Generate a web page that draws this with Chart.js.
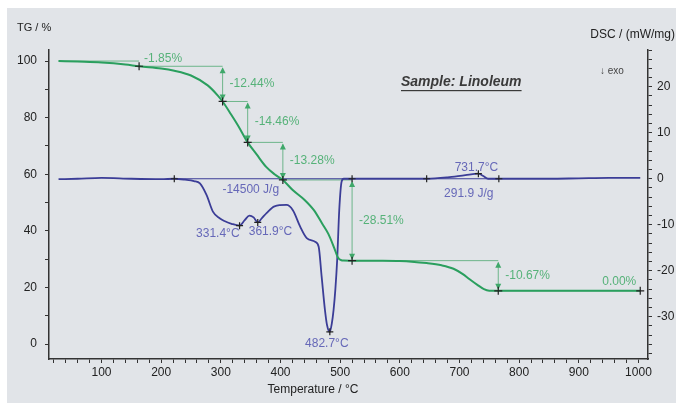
<!DOCTYPE html>
<html>
<head>
<meta charset="utf-8">
<script src="https://cdn.jsdelivr.net/npm/chart.js@4"></script>
<style>
  html, body { margin: 0; padding: 0; background: #fff; }
  canvas { display: block; }
</style>
</head>
<body>
<canvas id="dataChart" width="676" height="403"></canvas>
<script>
// TG curve (mass %, left axis)
const tgTemp = [28, 60, 100, 140, 163, 200, 222, 250, 278, 295, 303, 317, 330, 345, 360, 376, 390, 404, 420, 440, 456, 470, 480, 490, 496, 502, 506, 520, 560, 600, 620, 645, 670, 690, 705, 717, 730, 741, 750, 765, 850, 950, 1003]
const tgVal = [100, 99.8, 99.5, 98.8, 98.15, 97.4, 96.6, 94.9, 91.4, 87.8, 85.71, 81.2, 76.8, 71.25, 67.0, 62.6, 60.0, 57.97, 54.5, 51.0, 47.3, 42.5, 39.0, 34.0, 30.7, 29.6, 29.5, 29.46, 29.4, 29.3, 29.1, 28.6, 27.8, 26.6, 24.8, 22.9, 20.9, 19.4, 18.85, 18.79, 18.79, 18.79, 18.79]

// DSC curve (mW/mg, right axis)
const dscTemp = [28, 60, 100, 150, 200, 222, 240, 255, 265, 276, 287, 298, 306, 318, 331.4, 340, 348, 355, 361.9, 368, 377, 390, 410, 421, 433, 444, 458, 464, 469, 474.5, 478, 482.7, 486, 489, 492, 495, 498.5, 502.5, 506, 520, 600, 645, 680, 710, 731.7, 740, 748, 766, 850, 900, 950, 1003]
const dscVal = [-0.1, 0, 0.2, 0, -0.1, 0, -0.2, -0.5, -1.0, -3.5, -7.2, -8.6, -9.2, -9.8, -10.2, -9.0, -8.0, -8.4, -9.5, -8.7, -7.4, -6.0, -5.7, -6.9, -10.4, -12.9, -13.7, -14.8, -21.3, -28.5, -31.8, -33.3, -31.5, -28.5, -24, -17.7, -6.8, -0.6, 0, 0, 0, 0, 0.3, 0.8, 1.1, 0.6, 0, 0, 0, 0.1, 0.2, 0.2]

// TG evaluation steps
const stepTemp = [163, 303, 345, 404, 520, 765, 1003]
const stepVal = [98.15, 85.71, 71.25, 57.97, 29.46, 18.79, 18.79]
const stepLabels = ['-1.85%', '-12.44%', '-14.46%', '-13.28%', '-28.51%', '-10.67%', '0.00%']

// DSC evaluation
const peakTemp = [331.4, 361.9, 482.7, 731.7]
const peakLabels = ['331.4°C', '361.9°C', '482.7°C', '731.7°C']
const areaStart = [222, 645]
const areaEnd = [520, 766]
const areaLabels = ['-14500 J/g', '291.9 J/g']

const FONT = '"Liberation Sans", Arial, sans-serif';
const GREEN = '#2a9f5e';
const GREEN_TXT = '#56b279';
const BLUE = '#3b3d97';
const BLUE_TXT = '#6668b8';

function peakValue(t) {
    return dscVal[dscTemp.indexOf(t)];
}

const panelBg = {
    id: 'panelBg',
    beforeDraw(chart) {
        const c = chart.ctx;
        c.save();
        c.fillStyle = '#ffffff';
        c.fillRect(0, 0, chart.width, chart.height);
        c.fillStyle = '#e1e4e8';
        c.fillRect(7, 8, chart.width - 7, chart.height - 8);
        c.restore();
    }
};

function arrowHead(c, x, y, dir) {
    c.beginPath();
    c.moveTo(x, y);
    c.lineTo(x - 3, y - 6 * dir);
    c.lineTo(x + 3, y - 6 * dir);
    c.closePath();
    c.fill();
}

const evaluation = {
    id: 'evaluation',
    beforeDatasetsDraw(chart) {
        const c = chart.ctx;
        const sx = chart.scales.x, st = chart.scales.yTG, sd = chart.scales.yDSC;
        c.save();
        // TG reference levels and step arrows
        c.strokeStyle = '#6db58a';
        c.fillStyle = '#3fa86a';
        c.lineWidth = 1;
        let prevT = tgTemp[0], prevV = tgVal[0];
        for (let i = 0; i < stepTemp.length; i++) {
            const x0 = sx.getPixelForValue(prevT), x1 = sx.getPixelForValue(stepTemp[i]);
            const y0 = st.getPixelForValue(prevV), y1 = st.getPixelForValue(stepVal[i]);
            c.beginPath();
            c.moveTo(x0, y0);
            c.lineTo(x1, y0);
            c.stroke();
            if (y1 - y0 > 12) {
                c.beginPath();
                c.moveTo(x1, y0 + 2);
                c.lineTo(x1, y1 - 2);
                c.stroke();
                arrowHead(c, x1, y0 + 1, -1);
                arrowHead(c, x1, y1 - 1, 1);
            }
            prevT = stepTemp[i];
            prevV = stepVal[i];
        }
        // DSC integration baselines
        c.strokeStyle = BLUE;
        c.lineWidth = 1.2;
        for (let i = 0; i < areaStart.length; i++) {
            const y = sd.getPixelForValue(0);
            c.beginPath();
            c.moveTo(sx.getPixelForValue(areaStart[i]), y);
            c.lineTo(sx.getPixelForValue(areaEnd[i]), y);
            c.stroke();
        }
        c.restore();
    },
    afterDatasetsDraw(chart) {
        const c = chart.ctx;
        const sx = chart.scales.x, st = chart.scales.yTG, sd = chart.scales.yDSC;
        c.save();
        c.font = '12px ' + FONT;
        c.textBaseline = 'middle';
        // step labels
        c.fillStyle = GREEN_TXT;
        let prevV = tgVal[0];
        for (let i = 0; i < stepTemp.length; i++) {
            const x = sx.getPixelForValue(stepTemp[i]);
            const y0 = st.getPixelForValue(prevV), y1 = st.getPixelForValue(stepVal[i]);
            if (i === 0) {
                c.textAlign = 'left';
                c.fillText(stepLabels[i], x + 5, y1 - 8);
            } else if (i === stepTemp.length - 1) {
                c.textAlign = 'right';
                c.fillText(stepLabels[i], x - 4, y1 - 9);
            } else {
                c.textAlign = 'left';
                c.fillText(stepLabels[i], x + 7, (y0 + y1) / 2);
            }
            prevV = stepVal[i];
        }
        // peak labels
        c.fillStyle = BLUE_TXT;
        peakTemp.forEach(function(t, i) {
            const x = sx.getPixelForValue(t), y = sd.getPixelForValue(peakValue(t));
            if (i === 0) {
                c.textAlign = 'right';
                c.fillText(peakLabels[i], x, y + 8);
            } else if (i === 1) {
                c.textAlign = 'left';
                c.fillText(peakLabels[i], x - 9, y + 9);
            } else if (i === 2) {
                c.textAlign = 'center';
                c.fillText(peakLabels[i], x - 3, y + 12);
            } else {
                c.textAlign = 'center';
                c.fillText(peakLabels[i], x - 2, y - 6);
            }
        });
        // enthalpy labels
        areaLabels.forEach(function(txt, i) {
            const x0 = sx.getPixelForValue(areaStart[i]), x1 = sx.getPixelForValue(areaEnd[i]);
            const y = sd.getPixelForValue(0);
            c.textAlign = 'center';
            const xc = i === 0 ? x0 + (x1 - x0) * 0.43 : (x0 + x1) / 2 + 6;
            c.fillText(txt, xc, y + (i === 0 ? 11 : 15));
        });

        // titles
        c.fillStyle = '#222';
        c.font = '11px ' + FONT;
        c.textAlign = 'left';
        c.fillText('TG / %', 17, 28);
        c.textAlign = 'right';
        c.font = '12px ' + FONT;
        c.fillText('DSC / (mW/mg)', 675, 35);
        c.textAlign = 'center';
        c.fillText('Temperature / °C', 313, 390);
        c.font = '10px ' + FONT;
        c.fillStyle = '#444';
        c.textAlign = 'left';
        c.fillText('↓ exo', 600, 71);
        c.font = 'italic bold 14px ' + FONT;
        c.fillStyle = '#3a3a3a';
        c.fillText('Sample: Linoleum', 401, 82);
        const w = c.measureText('Sample: Linoleum').width;
        c.fillRect(401, 90, w, 1.2);
        c.restore();
    }
};

const axisGrid = { drawOnChartArea: false, tickLength: 4, tickColor: '#333', tickWidth: 1 };
const axisBorder = { color: '#333', width: 1.5 };
const tickFont = { family: FONT, size: 12 };

var chartData = {
    datasets: [{
        label: 'TG',
        data: tgTemp.map((t, i) => ({ x: t, y: tgVal[i] })),
        yAxisID: 'yTG',
        borderColor: GREEN,
        borderWidth: 2,
        pointRadius: 0,
        cubicInterpolationMode: 'monotone',
        order: 2
    }, {
        label: 'DSC',
        data: dscTemp.map((t, i) => ({ x: t, y: dscVal[i] })),
        yAxisID: 'yDSC',
        borderColor: BLUE,
        borderWidth: 1.8,
        pointRadius: 0,
        cubicInterpolationMode: 'monotone',
        order: 3
    }, {
        label: 'TG steps',
        data: stepTemp.map((t, i) => ({ x: t, y: stepVal[i] })),
        yAxisID: 'yTG',
        showLine: false,
        pointStyle: 'cross',
        pointRadius: 4,
        pointBorderWidth: 1.2,
        borderColor: '#222',
        order: 0
    }, {
        label: 'DSC marks',
        data: areaStart.concat(areaEnd).map(t => ({ x: t, y: 0 }))
            .concat(peakTemp.map(t => ({ x: t, y: peakValue(t) }))),
        yAxisID: 'yDSC',
        showLine: false,
        pointStyle: 'cross',
        pointRadius: 3.5,
        pointBorderWidth: 1.2,
        borderColor: '#222',
        order: 1
    }]
};

var chartOptions = {
    responsive: false,
    animation: false,
    layout: { padding: { top: 50, left: 0, right: 0, bottom: 0 } },
    plugins: {
        legend: { display: false },
        tooltip: { enabled: false }
    },
    scales: {
        x: {
            type: 'linear',
            min: 12,
            max: 1016,
            afterFit: s => { s.height = 44; },
            grid: axisGrid,
            border: axisBorder,
            ticks: {
                stepSize: 20,
                includeBounds: false,
                autoSkip: false,
                maxRotation: 0,
                padding: 2,
                color: '#222',
                font: tickFont,
                callback: v => (v % 100 === 0 ? String(v) : '')
            }
        },
        yTG: {
            type: 'linear',
            position: 'left',
            min: -5.3,
            max: 103.9,
            afterFit: s => { s.width = 49; },
            grid: axisGrid,
            border: axisBorder,
            ticks: {
                stepSize: 10,
                includeBounds: false,
                autoSkip: false,
                padding: 8,
                color: '#222',
                font: tickFont,
                callback: v => (v % 20 === 0 ? String(v) : '')
            }
        },
        yDSC: {
            type: 'linear',
            position: 'right',
            min: -39.2,
            max: 28.0,
            afterFit: s => { s.width = 28; },
            grid: axisGrid,
            border: axisBorder,
            ticks: {
                stepSize: 2,
                includeBounds: false,
                autoSkip: false,
                padding: 5,
                color: '#222',
                font: tickFont,
                callback: v => (v % 10 === 0 ? String(v) : '')
            }
        }
    }
};

const ctx = document.getElementById('dataChart');

var myChart = new Chart(ctx, {
    type: 'line',
    data: chartData,
    options: chartOptions,
    plugins: [panelBg, evaluation]
});
</script>
</body>
</html>
